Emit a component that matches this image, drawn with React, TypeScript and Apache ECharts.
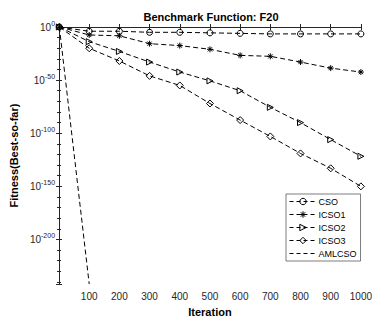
import React, { useEffect, useRef } from "react";
import * as echarts from "echarts";

const iterations = [1, 100, 200, 300, 400, 500, 600, 700, 800, 900, 1000];
// values are log10(fitness)
const csoExp = [0, -4, -4, -5, -5, -5.5, -6, -6.5, -6.5, -6.5, -6.5];
const icso1Exp = [0, -7.5, -8.3, -15.7, -17.5, -21, -26.7, -27.6, -33, -38.7, -42.4];
const icso2Exp = [0, -13.8, -23, -33, -42.4, -50.7, -60, -75.6, -90, -106, -121.7];
const icso3Exp = [0, -20, -32, -46, -55, -72, -87.6, -103, -119, -133, -150];
const amlIter = [1, 100];
const amlExp = [0, -242];
const seriesNames = ["CSO", "ICSO1", "ICSO2", "ICSO3", "AMLCSO"];
const yMin = -242;
const yMax = 0;
const xMin = 0;
const xMax = 1000;

const FONT = "'Liberation Sans', Arial, Helvetica, sans-serif";
const AX = "#262626";

const starPath = "path://M0,5L10,5M5,0L5,10M1.5,1.5L8.5,8.5M1.5,8.5L8.5,1.5";
const triRight = "path://M0,0L10,5L0,10Z";

export default function App() {
  const ref = useRef<HTMLDivElement>(null);
  useEffect(() => {
    if (!ref.current) return;
    const chart = echarts.init(ref.current, undefined, { renderer: "svg" });
    const lineStyle = { color: "#000", width: 1, type: [5, 3] as any };
    const clear = "rgba(0,0,0,0)";
    const mk = (name: string, xs: number[], ys: number[], symbol: string, size: number) => ({
      name,
      type: "line",
      data: xs.map((x, i) => [x, ys[i]]),
      symbol,
      symbolSize: size,
      showAllSymbol: true,
      lineStyle,
      itemStyle: { color: symbol === "none" ? "#000" : clear, borderColor: "#000", borderWidth: 1 },
      emphasis: { disabled: true },
      z: 3,
    });
    const yLabelFmt = (v: number) => (v % 50 === 0 ? "10{s|" + v + "}" : "");
    const legendData = seriesNames.map((n) =>
      n === "AMLCSO"
        ? { name: n, itemStyle: { color: clear, borderColor: clear, borderWidth: 0 } }
        : { name: n }
    );
    chart.setOption({
      animation: false,
      textStyle: { fontFamily: FONT },
      title: {
        text: "Benchmark Function: F20",
        left: 211,
        textAlign: "center",
        top: 11,
        padding: 0,
        textStyle: { fontSize: 11, fontWeight: "bold", color: "#000", fontFamily: FONT, lineHeight: 12 },
      },
      grid: { left: 57, right: 9, top: 27, bottom: 33 },
      legend: {
        orient: "vertical",
        left: 286,
        top: 194,
        data: legendData,
        backgroundColor: "#fff",
        borderColor: AX,
        borderWidth: 0.6,
        borderRadius: 0,
        padding: [2, 4, 2, 3],
        itemGap: 2,
        itemWidth: 27,
        itemHeight: 8,
        itemStyle: { color: clear, borderColor: "#000", borderWidth: 1 },
        lineStyle: { color: "#000", width: 1, type: [4, 3] },
        textStyle: { fontSize: 9, color: "#000", fontFamily: FONT, lineHeight: 11, padding: [0, 0, 0, -3] },
      },
      xAxis: [
        {
          type: "value",
          min: xMin,
          max: xMax,
          interval: 100,
          name: "Iteration",
          nameLocation: "middle",
          nameGap: 19,
          nameTextStyle: { fontSize: 11, fontWeight: "bold", color: "#000", fontFamily: FONT },
          axisLine: { lineStyle: { color: AX, width: 1 } },
          axisTick: { inside: true, length: 3, lineStyle: { color: AX } },
          axisLabel: {
            fontSize: 10,
            color: AX,
            margin: 7,
            fontFamily: FONT,
            formatter: (v: number) => (v === 0 ? "" : String(v)),
          },
          splitLine: { show: false },
        },
        {
          type: "value",
          position: "top",
          min: xMin,
          max: xMax,
          interval: 100,
          axisLine: { lineStyle: { color: AX, width: 1 } },
          axisTick: { inside: true, length: 3, lineStyle: { color: AX } },
          axisLabel: { show: false },
          splitLine: { show: false },
        },
      ],
      yAxis: [
        {
          type: "value",
          min: yMin,
          max: yMax,
          splitNumber: 5,
          name: "Fitness(Best-so-far)",
          nameLocation: "middle",
          nameGap: 38,
          nameTextStyle: { fontSize: 11, fontWeight: "bold", color: "#000", fontFamily: FONT },
          axisLine: { lineStyle: { color: AX, width: 1 } },
          axisTick: { inside: true, length: 3, lineStyle: { color: AX } },
          minorTick: { show: true, splitNumber: 5, length: 2, lineStyle: { color: AX } },
          axisLabel: {
            fontSize: 10,
            color: AX,
            margin: 4,
            fontFamily: FONT,
            showMinLabel: false,
            formatter: yLabelFmt,
            rich: { s: { fontSize: 7, color: AX, fontFamily: FONT, padding: [0, 0, 7, 0] } },
          },
          splitLine: { show: false },
        },
        {
          type: "value",
          position: "right",
          min: yMin,
          max: yMax,
          splitNumber: 5,
          axisLine: { show: true, lineStyle: { color: AX, width: 1 } },
          axisTick: { show: true, inside: true, length: 3, lineStyle: { color: AX } },
          minorTick: { show: true, splitNumber: 5, length: 2, lineStyle: { color: AX } },
          axisLabel: { show: false },
          splitLine: { show: false },
        },
      ],
      series: [
        mk(seriesNames[0], iterations, csoExp, "circle", 6),
        mk(seriesNames[1], iterations, icso1Exp, starPath, 6),
        mk(seriesNames[2], iterations, icso2Exp, triRight, 6),
        mk(seriesNames[3], iterations, icso3Exp, "diamond", 7),
        mk(seriesNames[4], amlIter, amlExp, "none", 1),
      ],
    });
    return () => chart.dispose();
  }, []);
  return <div ref={ref} style={{ width: 375, height: 322, position: "absolute", left: 0, top: 0, background: "#fff" }} />;
}
